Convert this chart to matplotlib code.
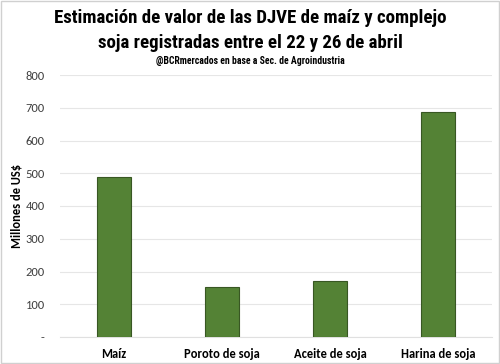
import matplotlib
matplotlib.use("Agg")
import matplotlib.pyplot as plt
from matplotlib.patches import Rectangle

categories = ["Maíz", "Poroto de soja", "Aceite de soja", "Harina de soja"]
values = [489, 153, 171, 687]
yticks = [0, 100, 200, 300, 400, 500, 600, 700, 800]
ytick_labels = ["-", "100", "200", "300", "400", "500", "600", "700", "800"]

title_font = ["Roboto Condensed", "DejaVu Sans"]
body_font = ["Carlito", "DejaVu Sans"]

fig = plt.figure(figsize=(5, 3.64), dpi=100)
ax = fig.add_axes([60/500, 1-337/364, 432/500, 262/364])

x = list(range(len(categories)))
ax.bar(x, values, width=0.31, color="#548235", edgecolor="#385723", linewidth=0.8, zorder=3)
ax.set_xlim(-0.5, len(categories) - 0.5)
ax.set_ylim(0, 800)
ax.set_yticks(yticks)
ax.set_yticklabels(ytick_labels, fontsize=9, family=body_font, color="#404040")
ax.set_xticks(x)
ax.set_xticklabels(categories, fontsize=9, family=body_font, fontweight="bold", color="#000000")
ax.tick_params(axis="both", length=0)
ax.tick_params(axis="y", pad=11)
ax.tick_params(axis="x", pad=8)
ax.grid(axis="y", color="#e6e6e6", linewidth=0.8, zorder=0)
for s in ["top", "right", "left"]:
    ax.spines[s].set_visible(False)
ax.spines["bottom"].set_color("#e0e0e0")
ax.set_ylabel("Millones de US$", fontsize=9, family=body_font, fontweight="bold")
ax.yaxis.set_label_coords(-0.086, 0.5)

fig.text(0.5, 1-18/364, "Estimación de valor de las DJVE de maíz y complejo", ha="center", va="center",
         fontsize=13.6, fontweight="bold", family=title_font)
fig.text(0.5, 1-43/364, "soja registradas entre el 22 y 26 de abril", ha="center", va="center",
         fontsize=13.6, fontweight="bold", family=title_font)
fig.text(0.5, 1-61/364, "@BCRmercados en base a Sec. de Agroindustria", ha="center", va="center",
         fontsize=7, fontweight="bold", family=title_font)

fig.add_artist(Rectangle((0.002, 0.002), 0.996, 0.996, transform=fig.transFigure,
                         fill=False, edgecolor="#d0d0d0", linewidth=1))

fig.savefig("out.png", dpi=100)
